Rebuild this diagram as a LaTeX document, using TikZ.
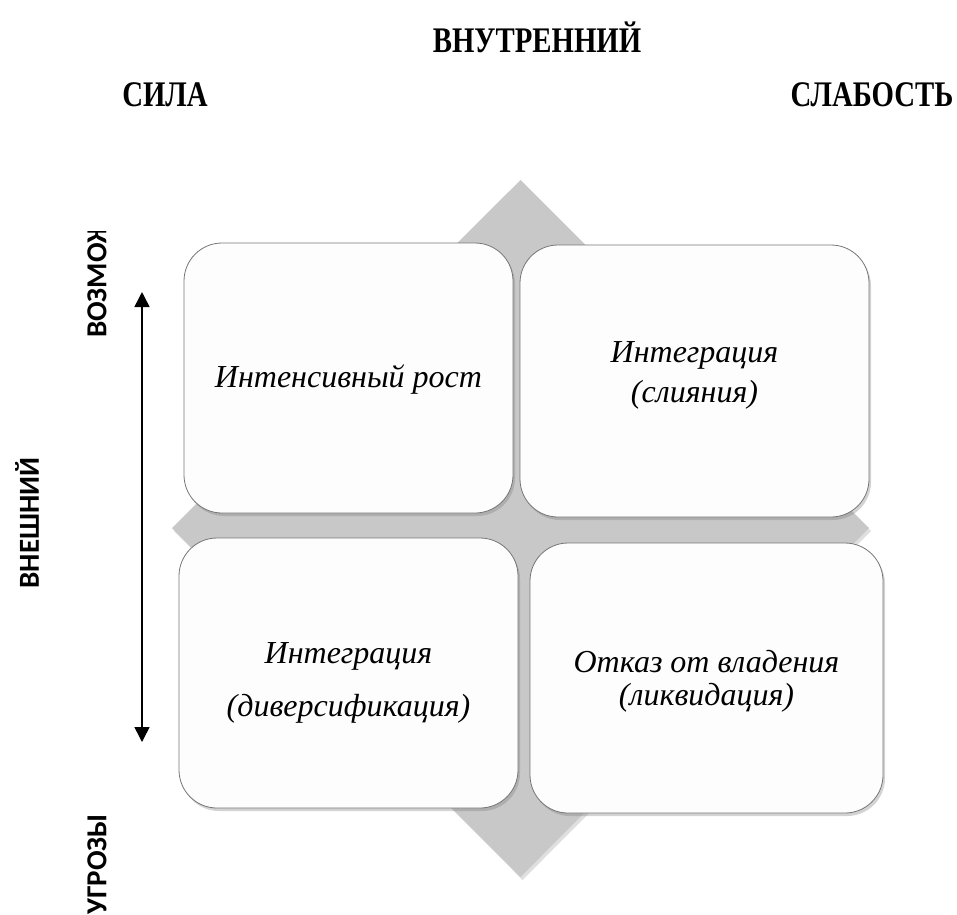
\documentclass[tikz,border=0pt]{standalone}
\usepackage{fontspec}
\setmainfont{Liberation Serif}
\newfontfamily\labelfont{Carlito}
\newfontfamily\headfont[FakeStretch=0.8]{Liberation Serif}
\usetikzlibrary{
  arrows.meta,
  shadows
}
\definecolor{diamondcolor}{RGB}{200, 200, 200}
\definecolor{boxborder}{RGB}{118, 118, 118}
\definecolor{boxfill}{RGB}{253, 253, 253}
\tikzset{
quadbox/.style={
  draw=boxborder,
  line width=0.8pt,
  fill=boxfill,
  rounded corners=38pt,
  inner sep=0pt,
  drop shadow={shadow xshift=2pt, shadow yshift=-3pt, opacity=0.35}
},
quadtext/.style={
  align=center,
  font=\itshape\fontsize{32}{40}\selectfont
},
diamondfill/.style={
  fill=diamondcolor,
  drop shadow={shadow xshift=2pt, shadow yshift=-3pt, opacity=0.25}
},
toplabel/.style={
  font=\headfont\bfseries\fontsize{36}{40}\selectfont
},
sidelabel/.style={
  font=\labelfont\bfseries\fontsize{29}{34}\selectfont,
  rotate=90,
  inner sep=0pt
},
axisarrow/.style={
  {Triangle[length=15pt,width=15pt]}-{Triangle[length=15pt,width=15pt]},
  line width=1.5pt
}
}

\begin{document}
\begin{tikzpicture}[x=1pt, y=-1pt]
  \useasboundingbox (0,0) rectangle (957,914);

  % headings
  \node[toplabel] (inner) at (537,37) {ВНУТРЕННИЙ};
  \node[toplabel] (strength) at (165,95) {СИЛА};
  \node[toplabel] (weakness) at (872,95) {СЛАБОСТЬ};

  % left side
  \node[sidelabel] (outer) at (27,523) {ВНЕШНИЙ};
  \begin{scope}
    \clip (60,231) rectangle (140,400);
    \node[sidelabel, anchor=west] (chances) at (97,338) {ВОЗМОЖ};
  \end{scope}
  \node[sidelabel, anchor=east] (threats) at (97,814) {УГРОЗЫ};

  \coordinate (arrtop) at (142,292);
  \coordinate (arrbot) at (142,742);
  \draw[axisarrow] (arrbot) -- (arrtop);

  % background diamond
  \path[diamondfill] (520.5,180) -- (869,528) -- (520.5,877) -- (172,528) -- cycle;

  % quadrants
  \node[quadbox, minimum width=329pt, minimum height=270pt] (growth) at (348.5,378) {};
  \node[quadbox, minimum width=349pt, minimum height=272pt] (merge) at (694.5,381) {};
  \node[quadbox, minimum width=339pt, minimum height=270pt] (divers) at (348.5,673) {};
  \node[quadbox, minimum width=353pt, minimum height=270pt] (exit) at (706.5,678) {};

  \node[quadtext] (growthtext) at ([yshift=-2pt]growth.center) {Интенсивный рост};
  \node[quadtext] (mergetext) at ([yshift=6pt]merge.center) {Интеграция\\(слияния)};
  \node[quadtext, font=\itshape\fontsize{32}{53}\selectfont] (diverstext)
    at ([yshift=-10pt]divers.center) {Интеграция\\(диверсификация)};
  \node[quadtext, font=\itshape\fontsize{32}{33}\selectfont] (exittext)
    at ([yshift=-3pt]exit.center) {Отказ от владения\\(ликвидация)};
\end{tikzpicture}
\end{document}
